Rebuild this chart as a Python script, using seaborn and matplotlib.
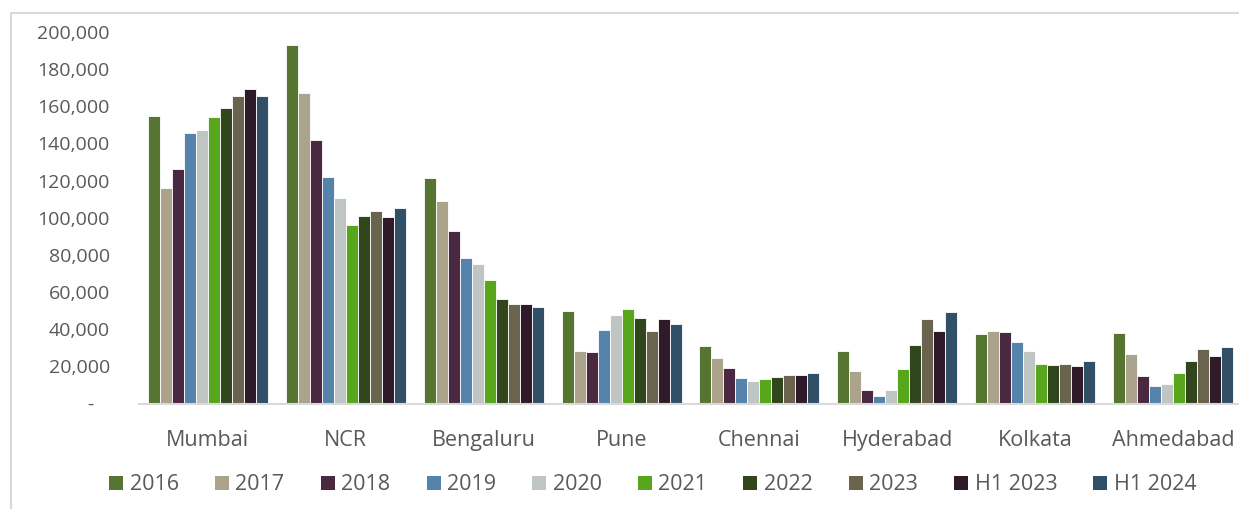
import matplotlib
matplotlib.use("Agg")
import matplotlib.pyplot as plt
import matplotlib.ticker as mticker
from matplotlib.patches import Rectangle
import seaborn as sns
import pandas as pd

# Cities and reporting periods
cities = ["Mumbai", "NCR", "Bengaluru", "Pune", "Chennai", "Hyderabad", "Kolkata", "Ahmedabad"]
periods = ["2016", "2017", "2018", "2019", "2020", "2021", "2022", "2023", "H1 2023", "H1 2024"]

# Units per city, one list per period (same city order as above)
v2016 = [155000, 193000, 121200, 49600, 30900, 28100, 37400, 37900]
v2017 = [116000, 167000, 109200, 28300, 24500, 17300, 39200, 26800]
v2018 = [126500, 142000, 92800, 27600, 18900, 7300, 38500, 14800]
v2019 = [145400, 122100, 78500, 39400, 13500, 4200, 32900, 9600]
v2020 = [147000, 110600, 74900, 47500, 12300, 7300, 28300, 10500]
v2021 = [154200, 96100, 66300, 50700, 13200, 18600, 21300, 16300]
v2022 = [159200, 100900, 56400, 46000, 14100, 31300, 20600, 23000]
v2023 = [165300, 103600, 53600, 39200, 15300, 45500, 21300, 29300]
vh1_2023 = [169100, 100500, 53700, 45500, 15200, 38900, 20000, 25600]
vh1_2024 = [165300, 105100, 51800, 42800, 16300, 49200, 23000, 30400]

series = [v2016, v2017, v2018, v2019, v2020, v2021, v2022, v2023, vh1_2023, vh1_2024]
colors = ["#567530", "#ABA38B", "#4B2842", "#5583AC", "#BFC5C3",
          "#58A61C", "#31461C", "#6A634E", "#2E1A28", "#324F68"]

df = pd.DataFrame(
    [(c, p, v) for p, vals in zip(periods, series) for c, v in zip(cities, vals)],
    columns=["City", "Period", "Units"],
)

sns.set_theme(style="white")
plt.rcParams["font.family"] = ["Open Sans", "DejaVu Sans"]
text_color = "#595959"

W, H = 1239, 509
fig = plt.figure(figsize=(W / 100, H / 100), dpi=100)
fig.patch.set_facecolor("white")

# Thin grey frame around the chart area
fig.add_artist(Rectangle((11 / W, -0.05), 1.2, 1 - 13 / H + 0.05, transform=fig.transFigure,
                         fill=False, edgecolor="#D9D9D9", linewidth=1.5))

left, right = 139, 1242
bottom, top = 403.5, 32
ax = fig.add_axes([left / W, 1 - bottom / H, (right - left) / W, (bottom - top) / H])

sns.barplot(data=df, x="City", y="Units", hue="Period", hue_order=periods, order=cities,
            palette=colors, saturation=1, width=0.87, gap=0,
            edgecolor="white", linewidth=0.6, ax=ax, errorbar=None)

ax.set_ylim(0, 200000)
ax.set_xlim(-0.5, 7.5)
ax.yaxis.set_major_locator(mticker.MultipleLocator(20000))
ax.yaxis.set_major_formatter(
    mticker.FuncFormatter(lambda v, _: "-   " if v == 0 else f"{int(v):,}"))
ax.set_xlabel("")
ax.set_ylabel("")

for s in ["top", "right", "left"]:
    ax.spines[s].set_visible(False)
ax.spines["bottom"].set_color("#D9D9D9")
ax.spines["bottom"].set_linewidth(1.5)
ax.tick_params(axis="y", length=0, pad=21, labelsize=14, labelcolor=text_color)
ax.tick_params(axis="x", length=0, pad=19, labelsize=15.5, labelcolor=text_color)

handles, labels = ax.get_legend_handles_labels()
ax.get_legend().remove()
leg = fig.legend(handles, labels, loc="center", bbox_to_anchor=(653 / W, 1 - 485 / H),
                 ncol=10, frameon=False, fontsize=15.5, handlelength=0.65, handleheight=0.65,
                 handletextpad=0.3, columnspacing=1.68, borderaxespad=0)
for t in leg.get_texts():
    t.set_color(text_color)
for h in leg.legend_handles:
    h.set_edgecolor("none")

fig.savefig("out.png", dpi=100, facecolor="white")
